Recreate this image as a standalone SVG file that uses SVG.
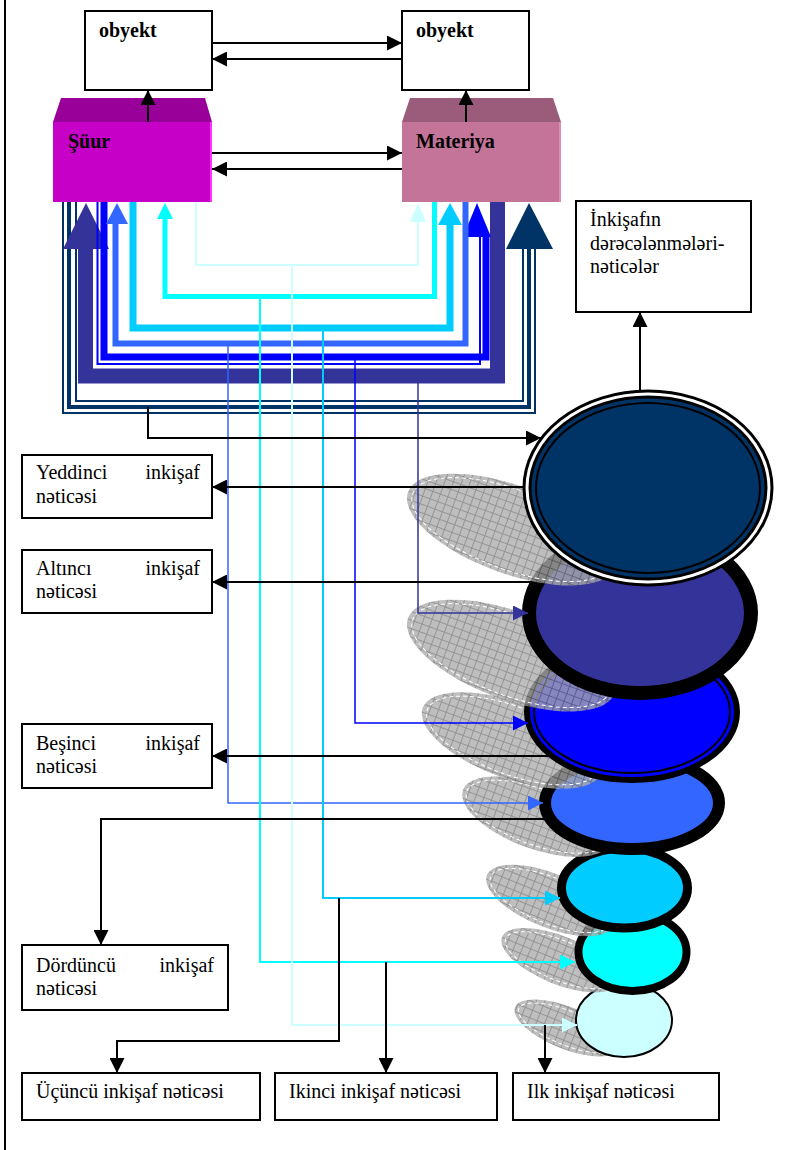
<svg xmlns="http://www.w3.org/2000/svg" width="809" height="1150" viewBox="0 0 809 1150">
<style>
.box{fill:#fff;stroke:#000;stroke-width:2}
.t{font-family:"Liberation Serif","DejaVu Serif","Times New Roman",serif;font-size:20px;fill:#000}
.b{font-weight:bold}
.blk{fill:none;stroke:#000;stroke-width:2}
.ln{fill:none}
.shadow{fill:url(#grid);opacity:0.78}
.sdash{fill:none;stroke:#fff;stroke-width:1;stroke-dasharray:4 3}
</style>
<defs>
<pattern id="grid" patternUnits="userSpaceOnUse" width="8" height="8">
<rect width="8" height="8" fill="#acacac"/>
<path d="M0,0.5 H8 M0.5,0 V8" stroke="#707070" stroke-width="0.9"/>
</pattern>
<marker id="ma" viewBox="0 0 10 10" refX="10" refY="5" markerWidth="15" markerHeight="15" markerUnits="userSpaceOnUse" orient="auto"><path d="M0,0 L10,5 L0,10 z" fill="#000"/></marker>
<marker id="m1" viewBox="0 0 10 10" refX="10" refY="5" markerWidth="15" markerHeight="15" markerUnits="userSpaceOnUse" orient="auto"><path d="M0,0 L10,5 L0,10 z" fill="#333399"/></marker>
<marker id="m2" viewBox="0 0 10 10" refX="10" refY="5" markerWidth="15" markerHeight="15" markerUnits="userSpaceOnUse" orient="auto"><path d="M0,0 L10,5 L0,10 z" fill="#0000ff"/></marker>
<marker id="m3" viewBox="0 0 10 10" refX="10" refY="5" markerWidth="15" markerHeight="15" markerUnits="userSpaceOnUse" orient="auto"><path d="M0,0 L10,5 L0,10 z" fill="#3366ff"/></marker>
<marker id="m4" viewBox="0 0 10 10" refX="10" refY="5" markerWidth="15" markerHeight="15" markerUnits="userSpaceOnUse" orient="auto"><path d="M0,0 L10,5 L0,10 z" fill="#00ccff"/></marker>
<marker id="m5" viewBox="0 0 10 10" refX="10" refY="5" markerWidth="15" markerHeight="15" markerUnits="userSpaceOnUse" orient="auto"><path d="M0,0 L10,5 L0,10 z" fill="#00ffff"/></marker>
<marker id="m6" viewBox="0 0 10 10" refX="10" refY="5" markerWidth="15" markerHeight="15" markerUnits="userSpaceOnUse" orient="auto"><path d="M0,0 L10,5 L0,10 z" fill="#ccffff"/></marker>
</defs>
<rect width="809" height="1150" fill="#fff"/>
<line x1="5" y1="0" x2="5" y2="1150" stroke="#000" stroke-width="2"/>

<g id="obyekt1"><rect class="box" x="85" y="11" width="127" height="79"/><text class="t b" x="99" y="37">obyekt</text></g>
<g id="obyekt2"><rect class="box" x="402" y="11" width="127" height="79"/><text class="t b" x="416" y="37">obyekt</text></g>
<g id="suur">
<polygon points="61,98 205,98 212,122 53,122" fill="#990099"/>
<rect x="53" y="122" width="159" height="80" fill="#c600c6"/>
<rect x="210" y="122" width="2" height="80" fill="#ff33ff"/>
<text class="t b" x="68" y="148">Şüur</text>
</g>
<g id="materiya">
<polygon points="410,98 553,98 561,122 402,122" fill="#9a5c7a"/>
<rect x="402" y="122" width="159" height="80" fill="#c47399"/>
<rect x="559" y="122" width="2" height="80" fill="#e08ab4"/>
<text class="t b" x="416" y="148">Materiya</text>
</g>
<g id="inkisafin"><rect class="box" x="576" y="201" width="175" height="111"/>
<text class="t" x="590" y="226">İnkişafın</text><text class="t" x="590" y="250">dərəcələnmələri-</text><text class="t" x="590" y="273">nəticələr</text></g>
<g id="yeddinci"><rect class="box" x="22" y="455" width="190" height="63"/><text class="t" x="36" y="479">Yeddinci</text><text class="t" x="200" y="479" text-anchor="end">inkişaf</text><text class="t" x="36" y="503">nəticəsi</text></g>
<g id="altinci"><rect class="box" x="22" y="550" width="190" height="63"/><text class="t" x="36" y="575">Altıncı</text><text class="t" x="200" y="575" text-anchor="end">inkişaf</text><text class="t" x="36" y="598">nəticəsi</text></g>
<g id="besinci"><rect class="box" x="22" y="724" width="190" height="64"/><text class="t" x="36" y="750">Beşinci</text><text class="t" x="200" y="750" text-anchor="end">inkişaf</text><text class="t" x="36" y="773">nəticəsi</text></g>
<g id="dorduncu"><rect class="box" x="22" y="945" width="206" height="65"/><text class="t" x="36" y="972">Dördüncü</text><text class="t" x="214" y="972" text-anchor="end">inkişaf</text><text class="t" x="36" y="995">nəticəsi</text></g>
<g id="ucuncu"><rect class="box" x="22" y="1073" width="238" height="47"/><text class="t" x="36" y="1098">Üçüncü inkişaf nəticəsi</text></g>
<g id="ikinci"><rect class="box" x="275" y="1073" width="222" height="47"/><text class="t" x="289" y="1098">Ikinci inkişaf nəticəsi</text></g>
<g id="ilk"><rect class="box" x="513" y="1073" width="206" height="47"/><text class="t" x="527" y="1098">Ilk inkişaf nəticəsi</text></g>

<g id="stage1">
<g transform="rotate(22 567 1028)"><ellipse class="shadow" cx="567" cy="1028" rx="56" ry="21"/><ellipse class="sdash" cx="567" cy="1028" rx="52" ry="17"/></g>
<ellipse cx="624" cy="1020" rx="48" ry="37" fill="#ccffff" stroke="#000" stroke-width="2"/>
</g>
<g id="stage2">
<g transform="rotate(22 559.5 960.2)"><ellipse class="shadow" cx="559.5" cy="960.2" rx="62" ry="24"/><ellipse class="sdash" cx="559.5" cy="960.2" rx="58" ry="20"/></g>
<ellipse cx="632.5" cy="952" rx="54" ry="39" fill="#00ffff" stroke="#000" stroke-width="8"/>
</g>
<g id="stage3">
<g transform="rotate(22 550 900.5)"><ellipse class="shadow" cx="550" cy="900.5" rx="68" ry="27"/><ellipse class="sdash" cx="550" cy="900.5" rx="64" ry="23"/></g>
<ellipse cx="624.5" cy="888" rx="63" ry="40" fill="#00ccff" stroke="#000" stroke-width="9"/>
</g>
<g id="stage4">
<g transform="rotate(20 536.3 816.7)"><ellipse class="shadow" cx="536.3" cy="816.7" rx="78" ry="32"/><ellipse class="sdash" cx="536.3" cy="816.7" rx="74" ry="28"/></g>
<ellipse cx="632" cy="803" rx="87" ry="46" fill="#3366ff" stroke="#000" stroke-width="12"/>
</g>
<g id="stage5">
<g transform="rotate(20 512 740.5)"><ellipse class="shadow" cx="512" cy="740.5" rx="95" ry="38"/><ellipse class="sdash" cx="512" cy="740.5" rx="90" ry="34"/></g>
<ellipse cx="632" cy="712" rx="105" ry="68" fill="#0000ff" stroke="#000" stroke-width="6"/>
<ellipse cx="632" cy="712" rx="98" ry="61" fill="none" stroke="#000" stroke-width="2"/>
</g>
<g id="stage6">
<g transform="rotate(20 511.4 655.6)"><ellipse class="shadow" cx="511.4" cy="655.6" rx="110" ry="44"/><ellipse class="sdash" cx="511.4" cy="655.6" rx="105" ry="40"/></g>
<ellipse cx="640" cy="613" rx="111" ry="80" fill="#333399" stroke="#000" stroke-width="14"/>
</g>
<g id="stage7">
<g transform="rotate(20 511.4 529.6)"><ellipse class="shadow" cx="511.4" cy="529.6" rx="110" ry="44"/><ellipse class="sdash" cx="511.4" cy="529.6" rx="105" ry="40"/></g>
<ellipse cx="648" cy="488" rx="124" ry="97" fill="#fff" stroke="#000" stroke-width="3"/>
<ellipse cx="648" cy="488" rx="118" ry="91" fill="#003366" stroke="#000" stroke-width="3"/>
<ellipse cx="648" cy="488" rx="112" ry="85" fill="none" stroke="#000" stroke-width="2"/>
</g>

<g id="connectors">
<path class="blk" d="M212,43 H402" marker-end="url(#ma)"/>
<path class="blk" d="M402,59 H212" marker-end="url(#ma)"/>
<path class="blk" d="M212,153 H402" marker-end="url(#ma)"/>
<path class="blk" d="M402,169 H212" marker-end="url(#ma)"/>
<path class="blk" d="M148,122 V90" marker-end="url(#ma)"/>
<path class="blk" d="M466,122 V90" marker-end="url(#ma)"/>

<path class="ln" d="M63,202 V413 H535 V249" stroke="#003366" stroke-width="2"/>
<path class="ln" d="M69,202 V407 H529 V249" stroke="#003366" stroke-width="4"/>
<path class="ln" d="M76,202 V401 H523 V249" stroke="#003366" stroke-width="2"/>
<polygon points="529,203 553,249 506,249" fill="#003366"/>

<path class="ln" d="M85.5,249 V376 H497.5 V202" stroke="#333399" stroke-width="15"/>
<polygon points="86,203 109,249 63,249" fill="#333399"/>

<path class="ln" d="M104,202 V357 H486 V237" stroke="#0000ff" stroke-width="7"/>
<path class="ln" d="M97.5,202 V364 H480 V237" stroke="#0000ff" stroke-width="2"/>
<polygon points="477,203 491,237 463,237" fill="#0000ff"/>

<path class="ln" d="M465.5,202 V343.5 H115.5 V224" stroke="#3366ff" stroke-width="6"/>
<polygon points="117,203 128,224 106,224" fill="#3366ff"/>

<path class="ln" d="M133,202 V328 H450 V225" stroke="#00ccff" stroke-width="7"/>
<polygon points="450,203 462,225 438,225" fill="#00ccff"/>

<path class="ln" d="M434.5,202 V296.5 H165 V219" stroke="#00ffff" stroke-width="5"/>
<polygon points="165,203 173,219 157,219" fill="#00ffff"/>

<path class="ln" d="M196,202 V265 H418 V222" stroke="#ccffff" stroke-width="2"/>
<polygon points="418,203 426,222 410,222" fill="#ccffff"/>

<path class="ln" d="M418,383 V613 H528" stroke="#333399" stroke-width="1.5" marker-end="url(#m1)"/>
<path class="ln" d="M355,360 V723 H528" stroke="#0000ff" stroke-width="1.5" marker-end="url(#m2)"/>
<path class="ln" d="M228,346 V803 H543" stroke="#3366ff" stroke-width="1.5" marker-end="url(#m3)"/>
<path class="ln" d="M323,331 V898 H560" stroke="#00ccff" stroke-width="2" marker-end="url(#m4)"/>
<path class="ln" d="M260,299 V962 H575" stroke="#00ffff" stroke-width="2" marker-end="url(#m5)"/>
<path class="ln" d="M292,265 V1025 H577" stroke="#ccffff" stroke-width="2" marker-end="url(#m6)"/>

<path class="blk" d="M148,407 V438 H541" marker-end="url(#ma)"/>
<path class="blk" d="M524,487 H212" marker-end="url(#ma)"/>
<path class="blk" d="M531,582 H212" marker-end="url(#ma)"/>
<path class="blk" d="M548,756 H212" marker-end="url(#ma)"/>
<path class="blk" d="M545,819 H101 V945" marker-end="url(#ma)"/>
<path class="blk" d="M339,898 V1041 H117 V1073" marker-end="url(#ma)"/>
<path class="blk" d="M386,962 V1073" marker-end="url(#ma)"/>
<path class="blk" d="M545,1025 V1073" marker-end="url(#ma)"/>
<path class="blk" d="M640,390 V312" marker-end="url(#ma)"/>
</g>
</svg>
